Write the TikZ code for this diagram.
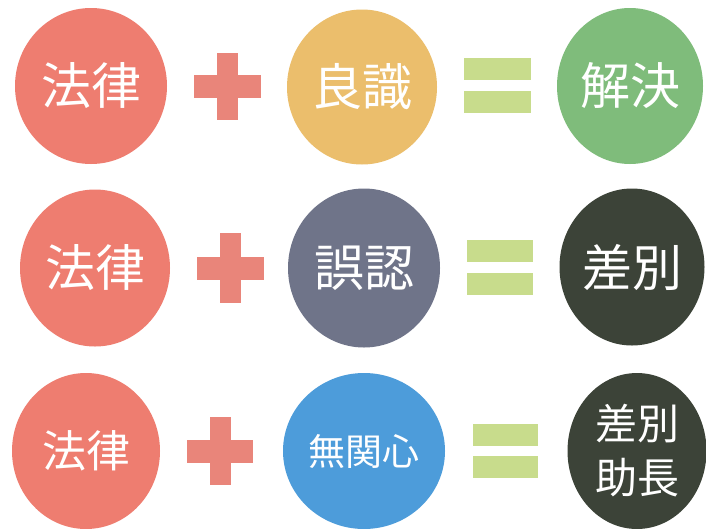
\documentclass[tikz,border=0pt]{standalone}
\usepackage{fontspec}
\newfontfamily\cjk{Noto Sans CJK JP}
\usetikzlibrary{shapes.geometric}
\definecolor{lawred}{HTML}{EE7D70}
\definecolor{plusred}{HTML}{E9857A}
\definecolor{goldc}{HTML}{EBBE6C}
\definecolor{greenc}{HTML}{7FBC7B}
\definecolor{grayc}{HTML}{6F7489}
\definecolor{blackc}{HTML}{3C4338}
\definecolor{bluec}{HTML}{4D9CDA}
\definecolor{eqgreen}{HTML}{C8DC8C}
\tikzset{
  ball/.style={ellipse, inner sep=0pt, text=white, align=center, font=\cjk},
  bar/.style={rectangle, inner sep=0pt, minimum width=#1},
}
\begin{document}
\begin{tikzpicture}[x=1pt,y=-1pt]
\useasboundingbox[fill=white] (0,0) rectangle (706,528);
% row 1
\node[ball, fill=lawred, minimum width=152pt, minimum height=156pt, font=\cjk\fontsize{50}{50}\selectfont] (r1a) at (91,86) {法律};
\node[bar=67pt, fill=plusred, minimum height=23pt] (p1h) at (227,86) {};
\node[bar=21pt, fill=plusred, minimum height=67pt] (p1v) at (227,86) {};
\node[ball, fill=goldc, minimum width=150pt, minimum height=155pt, font=\cjk\fontsize{50}{50}\selectfont] (r1b) at (362,87) {良識};
\node[bar=67pt, fill=eqgreen, minimum height=22pt] (e1t) at (497,69) {};
\node[bar=67pt, fill=eqgreen, minimum height=22pt] (e1b) at (497,102) {};
\node[ball, fill=greenc, minimum width=146pt, minimum height=156pt, font=\cjk\fontsize{50}{50}\selectfont] (r1c) at (630,86) {解決};
% row 2
\node[ball, fill=lawred, minimum width=150pt, minimum height=157pt, font=\cjk\fontsize{50}{50}\selectfont] (r2a) at (95,268) {法律};
\node[bar=67pt, fill=plusred, minimum height=23pt] (p2h) at (230,268) {};
\node[bar=21pt, fill=plusred, minimum height=70pt] (p2v) at (230,268) {};
\node[ball, fill=grayc, minimum width=152pt, minimum height=159pt, font=\cjk\fontsize{50}{50}\selectfont] (r2b) at (364,268) {誤認};
\node[bar=66pt, fill=eqgreen, minimum height=22pt] (e2t) at (500,251) {};
\node[bar=66pt, fill=eqgreen, minimum height=22pt] (e2b) at (500,284) {};
\node[ball, fill=blackc, minimum width=145pt, minimum height=157pt, font=\cjk\fontsize{50}{50}\selectfont] (r2c) at (632,267) {差別};
% row 3
\node[ball, fill=lawred, minimum width=148pt, minimum height=156pt, font=\cjk\fontsize{44}{44}\selectfont] (r3a) at (86,451) {法律};
\node[bar=66pt, fill=plusred, minimum height=23pt] (p3h) at (220,451) {};
\node[bar=21pt, fill=plusred, minimum height=68pt] (p3v) at (220,451) {};
\node[ball, fill=bluec, minimum width=162pt, minimum height=156pt, font=\cjk\fontsize{37}{37}\selectfont] (r3b) at (364,451) {無関心};
\node[bar=65pt, fill=eqgreen, minimum height=22pt] (e3t) at (505,435) {};
\node[bar=65pt, fill=eqgreen, minimum height=22pt] (e3b) at (505,467) {};
\node[ball, fill=blackc, minimum width=139pt, minimum height=156pt, font=\cjk\fontsize{42}{54}\selectfont] (r3c) at (637,451) {差別\\助長};
\end{tikzpicture}
\end{document}
